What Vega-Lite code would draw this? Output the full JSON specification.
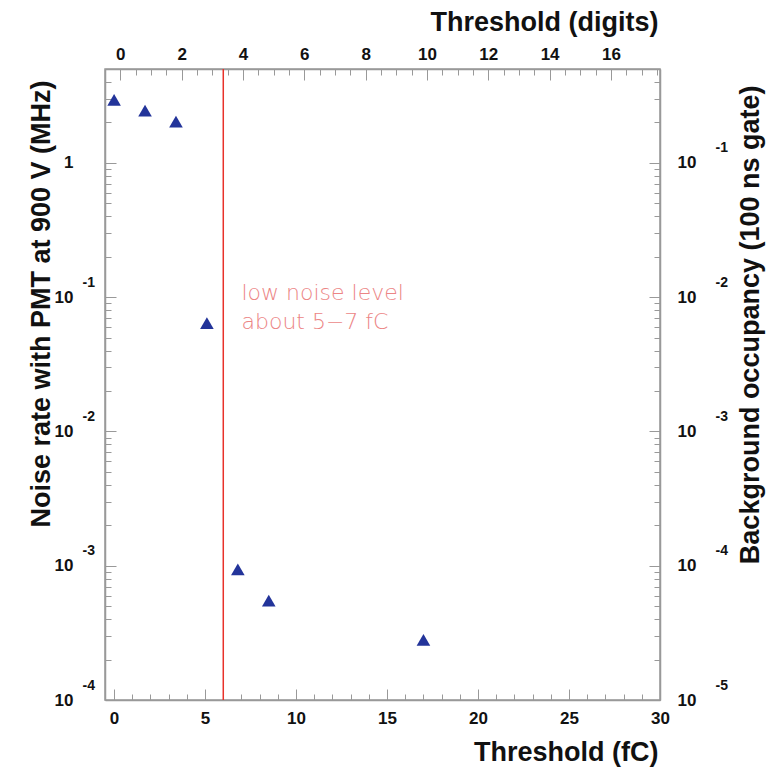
{
  "$schema": "https://vega.github.io/schema/vega-lite/v6.json",
  "width": 555,
  "height": 631,
  "autosize": {"type": "none"},
  "padding": {"left": 105, "top": 69, "right": 118, "bottom": 68},
  "background": "white",
  "config": {
    "view": {"stroke": "#999", "strokeWidth": 1.5},
    "axis": {
      "domainColor": "#999", "domainWidth": 1.5, "tickColor": "#999", "tickWidth": 1,
      "labelColor": "#111", "titleColor": "#111",
      "labelFont": "Liberation Sans", "titleFont": "Liberation Sans",
      "labelFontWeight": "bold", "titleFontWeight": "bold",
      "labelFontSize": 17, "titleFontSize": 27,
      "grid": false, "labelFlush": false, "labelOverlap": false, "labelBound": false
    }
  },
  "resolve": {"scale": {"x": "independent", "y": "independent"}},
  "layer": [
    {
      "layer": [
        {
          "data": {"values": [
            {"fC": 0, "rate": 2.95},
            {"fC": 1.7, "rate": 2.45},
            {"fC": 3.4, "rate": 2.03},
            {"fC": 5.1, "rate": 0.064},
            {"fC": 6.8, "rate": 0.00094},
            {"fC": 8.5, "rate": 0.00055},
            {"fC": 17, "rate": 0.00028}
          ]},
          "mark": {"type": "point", "shape": "triangle-up", "filled": true, "size": 185, "color": "#23349a", "opacity": 1},
          "encoding": {
            "x": {"field": "fC", "type": "quantitative",
              "scale": {"domain": [-0.5, 30], "nice": false, "zero": false},
              "axis": {"orient": "bottom", "values": [0, 5, 10, 15, 20, 25, 30], "tickSize": -11, "labelPadding": 21,
                "title": "Threshold (fC)", "titleX": 553, "titleY": 52, "titleAlign": "right", "titleBaseline": "middle"}},
            "y": {"field": "rate", "type": "quantitative",
              "scale": {"type": "log", "domain": [0.0001, 5], "nice": false},
              "axis": {"orient": "left", "values": [0.0001, 0.001, 0.01, 0.1, 1], "tickSize": -11, "labelPadding": 43,
                "labelExpr": "datum.value == 1 ? '1' : '10'",
                "title": "Noise rate with PMT at 900 V (MHz)", "titleAngle": 270, "titleX": -64, "titleY": 11,
                "titleAlign": "right", "titleBaseline": "middle"}}
          }
        },
        {
          "data": {"values": [{"fC": 6}]},
          "mark": {"type": "rule", "color": "#e8322a", "strokeWidth": 1.5},
          "encoding": {"x": {"field": "fC", "type": "quantitative"}}
        },
        {
          "data": {"values": [
            {"fC": 7.0, "rate": 0.107, "label": "low noise level"},
            {"fC": 7.0, "rate": 0.065, "label": "about 5−7 fC"}
          ]},
          "mark": {"type": "text", "align": "left", "baseline": "middle", "color": "#ec8585", "fontSize": 22, "font": "DejaVu Sans", "fontWeight": 200},
          "encoding": {
            "x": {"field": "fC", "type": "quantitative"},
            "y": {"field": "rate", "type": "quantitative"},
            "text": {"field": "label"}
          }
        }
      ]
    },
    {
      "data": {"values": [{"digits": 0, "occ": 0.01}]},
      "mark": {"type": "point", "opacity": 0},
      "encoding": {
        "x": {"field": "digits", "type": "quantitative",
          "scale": {"domain": [-0.5, 17.6], "nice": false, "zero": false},
          "axis": {"orient": "top", "values": [0, 2, 4, 6, 8, 10, 12, 14, 16], "tickSize": -11, "labelPadding": 17,
            "title": "Threshold (digits)", "titleX": 553, "titleY": -47, "titleAlign": "right", "titleBaseline": "middle"}},
        "y": {"field": "occ", "type": "quantitative",
          "scale": {"type": "log", "domain": [0.00001, 0.5], "nice": false},
          "axis": {"orient": "right", "values": [0.00001, 0.0001, 0.001, 0.01, 0.1], "tickSize": -11, "labelPadding": 28,
            "labelExpr": "'10'", "labelAlign": "left",
            "title": "Background occupancy (100 ns gate)", "titleAngle": 270, "titleX": 90, "titleY": 16,
            "titleAlign": "right", "titleBaseline": "middle"}}
      }
    },
    {
      "data": {"values": [{"fC": 0, "rate": 0.01}]},
      "mark": {"type": "point", "opacity": 0},
      "encoding": {
        "x": {"field": "fC", "type": "quantitative",
          "scale": {"domain": [-0.5, 30], "nice": false, "zero": false},
          "axis": {"orient": "bottom", "values": [1, 2, 3, 4, 6, 7, 8, 9, 11, 12, 13, 14, 16, 17, 18, 19, 21, 22, 23, 24, 26, 27, 28, 29],
            "tickSize": -6, "labels": false, "domain": false, "title": null}},
        "y": {"field": "rate", "type": "quantitative",
          "scale": {"type": "log", "domain": [0.0001, 5], "nice": false},
          "axis": {"orient": "left", "values": [0.0001, 0.001, 0.01, 0.1], "ticks": false, "domain": false,
            "labelExpr": "'' + round(log(datum.value) / LN10)", "labelAlign": "left", "labelPadding": 23,
            "labelOffset": -15, "labelFontSize": 14, "title": null}}
      }
    },
    {
      "data": {"values": [{"digits": 0, "rate": 0.01}]},
      "mark": {"type": "point", "opacity": 0},
      "encoding": {
        "x": {"field": "digits", "type": "quantitative",
          "scale": {"domain": [-0.5, 17.6], "nice": false, "zero": false},
          "axis": {"orient": "top", "values": [0.5, 1, 1.5, 2.5, 3, 3.5, 4.5, 5, 5.5, 6.5, 7, 7.5, 8.5, 9, 9.5, 10.5, 11, 11.5, 12.5, 13, 13.5, 14.5, 15, 15.5, 16.5, 17, 17.5],
            "tickSize": -6, "labels": false, "domain": false, "title": null}},
        "y": {"field": "rate", "type": "quantitative",
          "scale": {"type": "log", "domain": [0.0001, 5], "nice": false},
          "axis": {"orient": "left", "values": [0.0002, 0.0003, 0.0004, 0.0005, 0.0006, 0.0007, 0.0008, 0.0009,
            0.002, 0.003, 0.004, 0.005, 0.006, 0.007, 0.008, 0.009,
            0.02, 0.03, 0.04, 0.05, 0.06, 0.07, 0.08, 0.09,
            0.2, 0.3, 0.4, 0.5, 0.6, 0.7, 0.8, 0.9, 2, 3, 4, 5],
            "tickSize": -6, "labels": false, "domain": false, "title": null}}
      }
    },
    {
      "data": {"values": [{"occ": 0.01}]},
      "mark": {"type": "point", "opacity": 0},
      "encoding": {
        "y": {"field": "occ", "type": "quantitative",
          "scale": {"type": "log", "domain": [0.00001, 0.5], "nice": false},
          "axis": {"orient": "right", "values": [0.00001, 0.0001, 0.001, 0.01, 0.1], "ticks": false, "domain": false,
            "labelExpr": "'' + round(log(datum.value) / LN10)", "labelAlign": "left", "labelPadding": 55,
            "labelOffset": -15, "labelFontSize": 14, "title": null}}
      }
    },
    {
      "data": {"values": [{"occ": 0.01}]},
      "mark": {"type": "point", "opacity": 0},
      "encoding": {
        "y": {"field": "occ", "type": "quantitative",
          "scale": {"type": "log", "domain": [0.00001, 0.5], "nice": false},
          "axis": {"orient": "right", "values": [0.00002, 0.00003, 0.00004, 0.00005, 0.00006, 0.00007, 0.00008, 0.00009,
            0.0002, 0.0003, 0.0004, 0.0005, 0.0006, 0.0007, 0.0008, 0.0009,
            0.002, 0.003, 0.004, 0.005, 0.006, 0.007, 0.008, 0.009,
            0.02, 0.03, 0.04, 0.05, 0.06, 0.07, 0.08, 0.09, 0.2, 0.3, 0.4, 0.5],
            "tickSize": -6, "labels": false, "domain": false, "title": null}}
      }
    }
  ]
}
